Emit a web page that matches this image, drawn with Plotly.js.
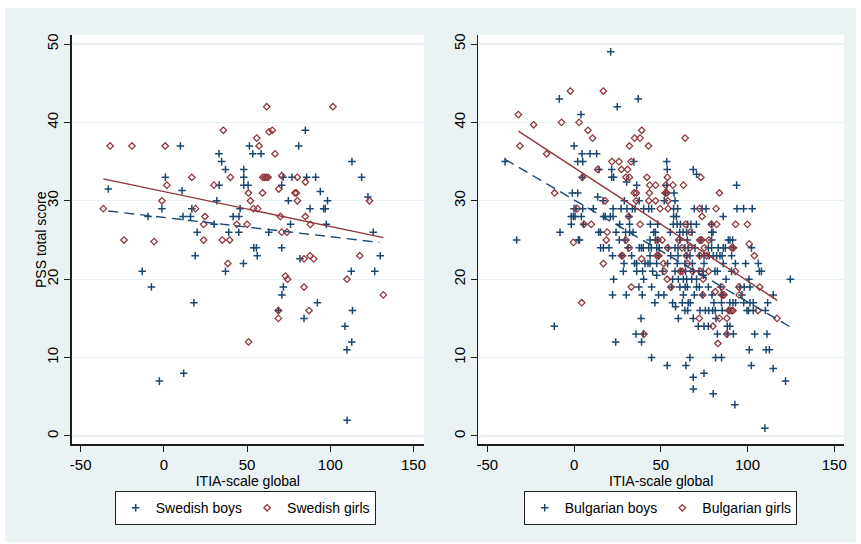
<!DOCTYPE html>
<html>
<head>
<meta charset="utf-8">
<script src="https://cdn.plot.ly/plotly-3.0.1.min.js"></script>
<style>
  html, body { margin: 0; padding: 0; background: #ffffff; width: 861px; height: 544px; overflow: hidden; }
  #plot { position: absolute; left: 5px; top: 8px; width: 851px; height: 534px; }
</style>
</head>
<body>
<div id="plot"></div>
<script>
// ---------- Data ----------
const xTicks = [-50, 0, 50, 100, 150];
const yTicks = [0, 10, 20, 30, 40, 50];
const xTitle = 'ITIA-scale global';
const yTitle = 'PSS total score';

// Swedish boys
const sweBoysX = [-33.4,-13.0,-9.5,-7.5,-2.7,-1.2,0.9,9.9,10.9,11.5,11.9,16.0,16.8,18.8,18.0,20.0,30.2,31.8,33.1,33.2,34.7,37.0,37.0,39.0,41.6,45.0,45.1,45.8,48.0,48.0,48.0,47.8,50.6,51.4,53.4,58.4,54.0,55.6,56.1,63.0,70.8,71.6,70.8,71.8,70.9,68.8,74.8,76.1,77.0,81.0,85.0,85.8,87.8,81.8,84.2,91.2,94.0,96.0,97.0,98.3,97.6,92.2,108.8,110.0,112.9,113.3,112.6,113.0,118.8,122.6,125.8,126.7,130.0,110.1];
const sweBoysY = [31.5,21,28,19,7,29,33,37,31.3,28,8,28,29,23,17,26,27,30,36,32,35,34,21,26,28,26,28,29,34,33,32,22,32,37,36,36,24,24,23,26,32,33,24,19,18,16,30,27,33,37,39,33,29,22.6,15,33,31.2,29,29,30,27,17,14,11,12,16,21,35,33,30.5,26,21,23,2];

// Swedish girls
const sweGirlsX = [-36.4,-32.3,-19.2,-24.0,-5.9,0.8,-1.2,1.8,16.8,19.0,23.9,24.7,23.9,30.1,35.7,35.1,39.5,40.0,38.4,43.8,50.0,50.8,52.0,50.9,53.8,56.4,55.8,57.2,61.8,59.3,59.4,60.6,61.6,62.6,63.2,65.1,66.8,69.0,70.8,70.0,70.8,74.0,68.8,68.8,73.0,74.3,78.8,79.6,80.2,80.2,85.0,85.0,88.0,84.2,87.8,90.0,84.2,87.2,101.6,110.0,117.7,123.5,131.9];
const sweGirlsY = [29,37,37,25,24.8,37,30,32,33,29,27,28,25,32,39,25,25,33,22,27,27,31,30,12,29,29,38,37,42,31,33,33,33,33,38.8,39,36,31.5,33.2,28,26,26,16,15,20.4,20,31,31,33,30,32.4,28,27,22.6,23,22.6,19,16,42,20,23,30,18];

// Bulgarian boys: PSS levels and the ITIA values found at each level
const bulBoysLevels = [49,43,42,41,37,36,35,34,33.4,33,32.4,32,31,30.5,30,29,28,27,26,25,24,23,22,21,20.5,20,19,18,17,16.5,16,15,14,13,12,11,10,9,8.6,8,7.5,7,6,5.4,4,1];
const bulBoysXAtLevel = [
  [21.1],
  [-8.5,37.0],
  [24.9],
  [4.0],
  [0],
  [4.6,9.2,13.0],
  [-39.8,2.1,5.0,34.5,53.4],
  [14.4,21.7,53.7,68.7],
  [70.6],
  [4.8,21.7,22.8],
  [30.3],
  [36.1,53.4,93.7],
  [-1.0,2.1,52.6,57.6],
  [13.6],
  [16.7,29.0,37.6,52.0,58.2],
  [0,1.1,5,11.1,22.5,27.1,30.5,33.6,35.2,40.1,43,44.7,57.4,59.7,69.3,73.8,76.1,93.9,97.7,102.7],
  [-1.6,-0.4,0.6,4.2,17,18,20.9,22.5,31.7,57.4,59,86],
  [-1.6,5.5,26.3,32.0,44.0,48.2,57.2,59.4,61.3,65.5,67.4,70.5,79.3],
  [-8.1,14.2,15.2,24.2,29.7,32.0,34.0,45.9,46.9,55.5,60.9,62.8,64.9,68,79.3,80.1],
  [-33.1,2.5,3.1,26.1,29.4,43.8,46.8,48.2,61.0,65.3,73.1,79.3,88.9,89.9,91.4],
  [15.3,16.9,20.1,31.1,37.6,38.8,39.9,43,44.5,47.6,49.1,54.3,58.2,59.9,63.9,65.8,69.7,77.4,79.3,83.1,86,87.2,91.8,102.3],
  [22.2,27.4,33.2,43.8,48.7,55.7,59.9,64.9,66.8,72.2,74.9,77.9,80.3,82.2,84.1,85.4,90.8],
  [28.8,34.9,36.1,40.9,42.6,43.8,47.6,53.9,59.5,63.9,68.2,74.9,86,93.0,98.9,106.2],
  [28.4,36.1,39.5,45.3,51,58.2,61.4,64.3,68.7,72,74.5,81.2,82.6,90.8,106.8,108.0],
  [47.6,74.5],
  [22.8,40.1,56.8,60.1,63,64.9,67.8,70.6,87.6,100.8,124.7],
  [37.4,44.7,56.2,61,64.1,65.3,70.6,72.2,77.4,84.5,95.6,98.1,101.4],
  [22.2,30.1,39.3,48.7,51.8,63,69.3,74.1,79.5,85,86,96.8,114.8],
  [46.6,56.8,62.4,65.8,67.0,80.6,85,89.8,91.6,93.1,97.8,101.4,103.3,111.6],
  [58.5],
  [63.9,65.5,72.6,75.7,77.6,79.9,81.4,85.4,88.9,99.7,100.6,103.3,110.3],
  [38.6,60.1,68.7,81.8],
  [-11.4,71.6,74.9,77.4,88.3,89.8],
  [35.7,39.9,82.6,88.2,91.8,104.1,111.2],
  [24,38.9],
  [101,110.7,112.6],
  [44.7,66.8,81.6,85],
  [53.7,64.5,102.2],
  [114.8],
  [74.9],
  [68.7],
  [121.9],
  [68.7],
  [80.2],
  [92.7],
  [110]
];

// Bulgarian girls
const bulGirlsLevels = [44,41,40,39.7,39,38,37,36,35,34,33,32,31,30,29,28,27,26,25,24.7,24.5,24,23,22.6,22,21,20,19,18.4,18,17,16,15,14,13,11.8];
const bulGirlsXAtLevel = [
  [-2.1,16.9],
  [-32.1],
  [-7.2,2.9],
  [-23.3],
  [8.0,39.0],
  [10.7,34.9,38.0,64.0],
  [-31.2,31.9,42.9],
  [-15.8],
  [21.8,25.9,32.9],
  [13.6,27.3,30.8],
  [4.8,29.9,31.9,42.0,53.8,73.1],
  [43.6,47.0,52.8,57.0,63.1],
  [-11.2,34.7,35.9,43.4,52.6,53.5,83.8],
  [17.9,35.8,43.1,47.0,54.0],
  [1.9,49.6,54.2,72.3,81.9],
  [31.5,73.8],
  [5.7,9.9,38.1,64.3,79.1,82.2,93.1,99.9],
  [19.1,66.9],
  [18.6,29.9,48.1,50.8,60.3,72.4,73.6,77.7],
  [-0.4],
  [101.0],
  [31.8,53.9,62.2,66.9,75.1,90.8,91.8],
  [27.4,27.9,47.8,48.8,64.7,72.6,76.4,103.9],
  [38.9],
  [16.9,51.6,65.5],
  [52.0,61.2,62.4,68.3,72.8,77.5,93.0],
  [53.7,74.4],
  [33.0,55.8,85.2,95.0,107.0],
  [81.4],
  [74.2,85.3,86.5,95.2],
  [4.4],
  [89.3,90.6,91.6,106.0],
  [72.2,83.8,88.1,117.0],
  [80.0],
  [40.3,88.1],
  [82.9]
];

// Fitted lines (end points)
const fitSweBoysX = [-33.4, 129.4];
const fitSweBoysY = [28.7, 24.7];
const fitSweGirlsX = [-36.4, 132.0];
const fitSweGirlsY = [32.8, 25.3];
const fitBulBoysX = [-39.8, 124.7];
const fitBulBoysY = [35.3, 13.9];
const fitBulGirlsX = [-32.1, 117.1];
const fitBulGirlsY = [38.9, 17.3];

// ---------- Build ----------
function expand(levels, xsAt) {
  const xs = [], ys = [];
  levels.forEach((lv, i) => xsAt[i].forEach(v => { xs.push(v); ys.push(lv); }));
  return {x: xs, y: ys};
}
const bulBoys = expand(bulBoysLevels, bulBoysXAtLevel);
const bulGirls = expand(bulGirlsLevels, bulGirlsXAtLevel);

const NAVY = '#1a476f';
const MAROON = '#90353b';
const AXC = '#1e1e1e';
const FONT = 'Liberation Sans, Arial, Helvetica, sans-serif';

const boyMarker = {symbol: 'cross-thin-open', size: 5.4, color: NAVY, line: {color: NAVY, width: 1.5}};
const girlMarker = {symbol: 'diamond-open', size: 5, color: MAROON, line: {color: MAROON, width: 1.25}};

const traces = [
  {type: 'scatter', mode: 'markers', x: sweBoysX, y: sweBoysY, name: 'Swedish boys',
   marker: boyMarker, xaxis: 'x', yaxis: 'y', legend: 'legend'},
  {type: 'scatter', mode: 'markers', x: sweGirlsX, y: sweGirlsY, name: 'Swedish girls',
   marker: girlMarker, xaxis: 'x', yaxis: 'y', legend: 'legend'},
  {type: 'scatter', mode: 'lines', x: fitSweBoysX, y: fitSweBoysY, showlegend: false,
   line: {color: NAVY, width: 1.4, dash: '10px,6px'}, xaxis: 'x', yaxis: 'y', hoverinfo: 'skip'},
  {type: 'scatter', mode: 'lines', x: fitSweGirlsX, y: fitSweGirlsY, showlegend: false,
   line: {color: MAROON, width: 1.4}, xaxis: 'x', yaxis: 'y', hoverinfo: 'skip'},

  {type: 'scatter', mode: 'markers', x: bulBoys.x, y: bulBoys.y, name: 'Bulgarian boys',
   marker: boyMarker, xaxis: 'x2', yaxis: 'y2', legend: 'legend2'},
  {type: 'scatter', mode: 'markers', x: bulGirls.x, y: bulGirls.y, name: 'Bulgarian girls',
   marker: girlMarker, xaxis: 'x2', yaxis: 'y2', legend: 'legend2'},
  {type: 'scatter', mode: 'lines', x: fitBulBoysX, y: fitBulBoysY, showlegend: false,
   line: {color: NAVY, width: 1.4, dash: '10px,6px'}, xaxis: 'x2', yaxis: 'y2', hoverinfo: 'skip'},
  {type: 'scatter', mode: 'lines', x: fitBulGirlsX, y: fitBulGirlsY, showlegend: false,
   line: {color: MAROON, width: 1.4}, xaxis: 'x2', yaxis: 'y2', hoverinfo: 'skip'}
];

function xAxis(domain, range, anchor) {
  return {
    domain: domain, range: range, anchor: anchor,
    tickmode: 'array', tickvals: xTicks, ticktext: xTicks.map(String),
    ticks: 'outside', ticklen: 6, tickwidth: 1, tickcolor: AXC,
    showline: true, linecolor: AXC, linewidth: 1.3, mirror: false,
    showgrid: false, zeroline: false,
    tickfont: {family: FONT, size: 15, color: '#000'},
    title: {text: xTitle, font: {family: FONT, size: 14, color: '#000'}, standoff: 0},
    fixedrange: true
  };
}
function yAxis(domain, anchor) {
  return {
    domain: domain, range: [-1.06, 51.19], anchor: anchor,
    tickmode: 'array', tickvals: yTicks, ticktext: yTicks.map(String), tickangle: -90,
    ticks: 'outside', ticklen: 6, tickwidth: 1, tickcolor: AXC,
    showline: true, linecolor: AXC, linewidth: 1.3, mirror: false,
    showgrid: true, gridcolor: '#e8f0f2', gridwidth: 1.2, zeroline: false,
    tickfont: {family: FONT, size: 15, color: '#000'},
    fixedrange: true
  };
}

const W = 851, H = 534;
const yDom = [(H - 436.3) / H, (H - 26.7) / H];

const legendBase = {
  orientation: 'h', yanchor: 'top', xanchor: 'center', y: (H - 483) / H,
  bgcolor: '#ffffff', bordercolor: '#222', borderwidth: 1.2,
  font: {family: FONT, size: 14, color: '#000'},
  itemclick: false, itemdoubleclick: false, itemwidth: 30, tracegroupgap: 0
};

const layout = {
  width: W, height: H,
  margin: {l: 0, r: 0, t: 0, b: 0},
  paper_bgcolor: '#eaf2f3', plot_bgcolor: '#ffffff',
  font: {family: FONT, size: 14, color: '#000'},
  showlegend: true,
  xaxis: xAxis([66.7 / W, 419 / W], [-55.4, 156.3], 'y'),
  yaxis: yAxis(yDom, 'x'),
  xaxis2: xAxis([473.3 / W, 839 / W], [-55.2, 155.6], 'y2'),
  yaxis2: yAxis(yDom, 'x2'),
  legend: Object.assign({}, legendBase, {x: 240.5 / W}),
  legend2: Object.assign({}, legendBase, {x: 655.5 / W}),
  annotations: [{
    text: yTitle, textangle: -90, showarrow: false,
    xref: 'paper', yref: 'paper', x: 35.5 / W, y: (H - 231.5) / H,
    xanchor: 'center', yanchor: 'middle',
    font: {family: FONT, size: 14, color: '#000'}
  }]
};

Plotly.newPlot('plot', traces, layout, {displayModeBar: false, staticPlot: true});
</script>
</body>
</html>
